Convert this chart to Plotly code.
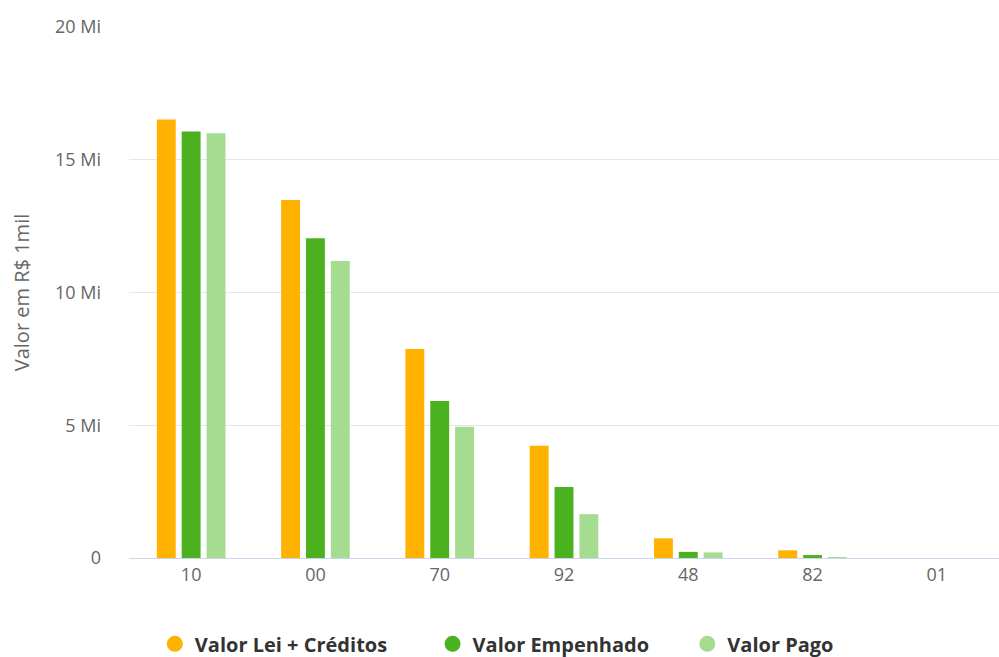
import plotly.graph_objects as go

# Categories and series values (R$ 1mil, in millions)
categorias = ['10', '00', '70', '92', '48', '82', '01']
valor_lei = [16.52, 13.48, 7.87, 4.23, 0.74, 0.29, 0.0]
valor_empenhado = [16.06, 12.04, 5.91, 2.67, 0.23, 0.11, 0.0]
valor_pago = [16.0, 11.19, 4.94, 1.65, 0.21, 0.01, 0.0]

series = [
    ('Valor Lei + Créditos', valor_lei, '#FFB200'),
    ('Valor Empenhado', valor_empenhado, '#4CB11E'),
    ('Valor Pago', valor_pago, '#A6DC8F'),
]
legend_ids = ['legend', 'legend2', 'legend3']
legend_x = [0.155, 0.433, 0.688]

y_ticks = [0, 5, 10, 15, 20]
y_tick_labels = ['0', '5 Mi', '10 Mi', '15 Mi', '20 Mi']

fig = go.Figure()
for nome, vals, cor in series:
    fig.add_trace(go.Bar(x=categorias, y=vals, name=nome, marker=dict(color=cor, line=dict(width=0)),
                         legendgroup=nome, showlegend=False))
# legend entries with round symbols, one legend each so they can be spaced like the original
for (nome, vals, cor), lid in zip(series, legend_ids):
    fig.add_trace(go.Scatter(x=[None], y=[None], mode='markers', name=nome, legendgroup=nome,
                             legend=lid, marker=dict(symbol='circle', size=20, color=cor)))

legend_style = dict(orientation='h', xanchor='left', xref='container',
                    y=0.02, yanchor='middle', yref='container',
                    font=dict(size=20, color='#333333', family='Open Sans', weight='bold'),
                    itemwidth=30)

fig.update_layout(
    width=999, height=657,
    margin=dict(l=129, r=0, t=27, b=99, autoexpand=False),
    paper_bgcolor='white', plot_bgcolor='white',
    font=dict(family='Open Sans', size=18, color='#666666'),
    barmode='group', bargap=0.4, bargroupgap=0.24,
    showlegend=True,
    legend=dict(x=legend_x[0], **legend_style),
    legend2=dict(x=legend_x[1], **legend_style),
    legend3=dict(x=legend_x[2], **legend_style),
    xaxis=dict(showgrid=False, showline=True, linecolor='#ccd6eb', linewidth=1, ticks='',
               tickfont=dict(size=18, color='#666666')),
    yaxis=dict(range=[0, 20], tickvals=y_ticks, ticktext=y_tick_labels, showgrid=True,
               gridcolor='#e6e6e6', gridwidth=1, zeroline=False, ticklabelstandoff=27,
               tickfont=dict(size=18, color='#666666'),
               title=dict(text='Valor em R$ 1mil', standoff=20, font=dict(size=20, color='#666666'))),
)

fig.write_html('out.html', config={'displayModeBar': False},
               post_script="document.body.style.margin='0';")
